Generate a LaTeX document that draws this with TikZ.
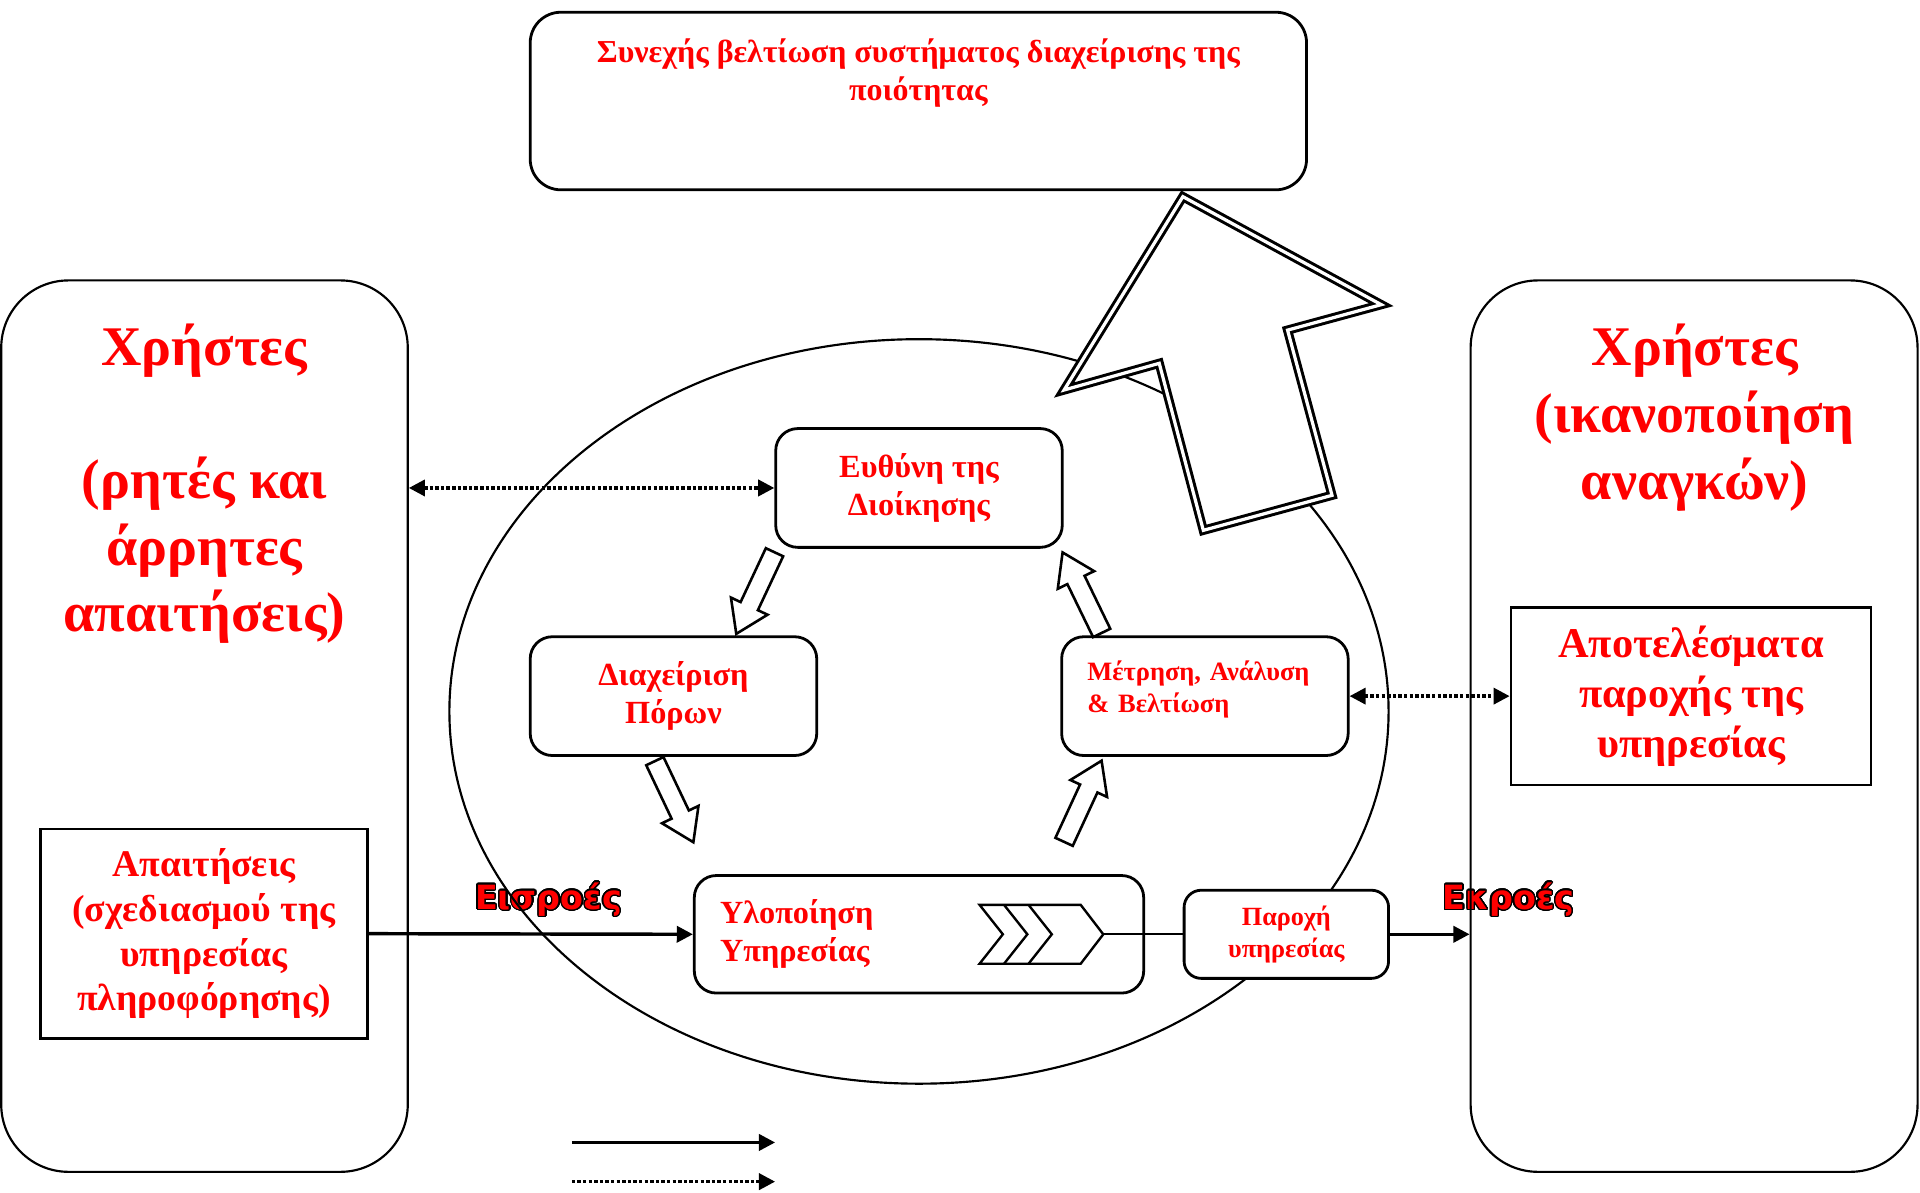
\documentclass[tikz,border=0pt]{standalone}
\usepackage{fontspec}
\setmainfont{Liberation Serif}
\newfontfamily\flowfont{DejaVu Sans}
\usepackage{contour}
\contourlength{0.6pt}
\contournumber{32}
\usetikzlibrary{arrows.meta}

\newcommand{\fsz}[2]{\fontsize{#1}{#2}\selectfont}
\newcommand{\hollowarrow}[3]{%
  \draw[line width=1.2pt,fill=white,shift={#1},rotate=#2]
    (0,-0.078) -- (#3-0.25,-0.078) -- (#3-0.25,-0.165) -- (#3,0)
    -- (#3-0.25,0.165) -- (#3-0.25,0.078) -- (0,0.078) -- cycle;}

\begin{document}
\begin{tikzpicture}[x=2cm,y=2cm,>={Triangle[length=7.5pt,width=7.5pt]},
  panel/.style={draw,line width=1pt,rounded corners=1.1cm,minimum height=14.56cm,inner sep=0pt},
  stage/.style={draw,fill=white,line width=1.3pt,rounded corners=0.36cm,minimum height=1.94cm,minimum width=4.68cm,inner sep=0pt,text=red,align=center,font=\bfseries\fsz{15}{17.6}},
  plain/.style={draw,fill=white,line width=1.3pt,inner sep=0pt,text=red,align=center},
  redtext/.style={text=red,align=center,inner sep=0pt,font=\bfseries},
  flow/.style={text=red,inner sep=0pt,font=\flowfont\bfseries\fsz{15.5}{18}},
  link/.style={line width=1.6pt}]

\useasboundingbox (0,0) rectangle (15.68,9.735);

% Εισροές / Εκροές
\node[flow] (inlbl) at (4.48,2.385) {\contour{black}{Εισροές}};
\node[flow] (outlbl) at (12.32,2.385) {\contour{black}{Εκροές}};

% system circle
\draw[line width=1pt] (7.505,3.925) ellipse (7.67cm and 6.08cm);

% users
\node[panel,minimum width=6.64cm] (usersL) at (1.67,3.805) {};
\node[panel,minimum width=7.3cm] (usersR) at (13.835,3.805) {};
\node[redtext,font=\bfseries\fsz{26}{31}] (usersLtxt) at (1.67,5.785) {Χρήστες\\[31pt](ρητές και\\άρρητες\\απαιτήσεις)};
\node[redtext,font=\bfseries\fsz{26}{31}] (usersRtxt) at (13.84,6.325) {Χρήστες\\(ικανοποίηση\\αναγκών)};
\node[plain,minimum width=5.34cm,minimum height=3.42cm,font=\bfseries\fsz{17.5}{20.8}] (reqs) at (1.665,2.11) {Απαιτήσεις\\(σχεδιασμού της\\υπηρεσίας\\πληροφόρησης)};
\node[plain,minimum width=5.88cm,minimum height=2.9cm,font=\bfseries\fsz{19.7}{23.3}] (results) at (13.81,4.05) {Αποτελέσματα\\παροχής της\\υπηρεσίας};

% quality circle
\node[stage] (mgmt) at (7.505,5.75) {Ευθύνη της\\Διοίκησης};
\node[stage] (resources) at (5.50,4.05) {Διαχείριση\\Πόρων};
\node[stage,align=left,text width=3.84cm,text depth=0.82cm,font=\bfseries\fsz{12.3}{14.8}] (measure) at (9.84,4.05) {Μέτρηση, Ανάλυση\\\& Βελτίωση};
\node[stage,align=left,text width=6.5cm,minimum width=7.34cm,minimum height=1.92cm] (realize) at (7.505,2.105) {Υλοποίηση\\Υπηρεσίας};
\node[stage,rounded corners=0.28cm,minimum width=3.34cm,minimum height=1.44cm,font=\bfseries\fsz{12.2}{15}] (deliver) at (10.505,2.105) {Παροχή\\υπηρεσίας};

% chevrons
\draw[line width=1.1pt] (8.00,2.345) -- (8.826,2.345) -- (9.01,2.105) -- (8.826,1.865) -- (8.00,1.865) -- (8.19,2.105) -- cycle;
\draw[line width=1.1pt] (8.20,2.345) -- (8.39,2.105) -- (8.20,1.865);
\draw[line width=1.1pt] (8.40,2.345) -- (8.59,2.105) -- (8.40,1.865);
\coordinate (chevtip) at (9.01,2.105);

% connectors
\draw[link,->] (reqs.east) -- (realize.west);
\draw[line width=1.1pt] (chevtip) -- (deliver.west);
\draw[link,->] (deliver.east) -- (usersR.west |- deliver.east);
\draw[link,densely dotted,<->] (usersL.east |- mgmt.west) -- (mgmt.west);
\draw[link,densely dotted,<->] (measure.east) -- (results.west);

% block arrows round the circle
\hollowarrow{(6.325,5.225)}{-115.1}{0.736}
\hollowarrow{(5.348,3.519)}{-64.6}{0.733}
\hollowarrow{(8.69,2.86)}{65.2}{0.73}
\hollowarrow{(8.997,4.566)}{115.9}{0.731}

% continual improvement
\node[draw,fill=white,line width=1.3pt,rounded corners=0.5cm,minimum width=12.68cm,minimum height=2.9cm] (improve) at (7.50,8.91) {};
\node[redtext,font=\bfseries\fsz{14.85}{17.6}] (improvetxt) at (7.50,9.14) {Συνεχής βελτίωση συστήματος διαχείρισης της\\ποιότητας};

% big arrow
\draw[fill=white,line width=1.4pt,double,double distance=1.5pt] (9.66,8.129) -- (11.28,7.247) -- (10.515,7.039) -- (10.878,5.69) -- (9.827,5.404) -- (9.467,6.768) -- (8.69,6.55) -- cycle;

% legend
\coordinate (keyA) at (4.67,0.405);
\coordinate (keyB) at (6.33,0.405);
\coordinate (keyC) at (4.67,0.085);
\coordinate (keyD) at (6.33,0.085);
\draw[link,->] (keyA) -- (keyB);
\draw[link,densely dotted,->] (keyC) -- (keyD);
\end{tikzpicture}
\end{document}
